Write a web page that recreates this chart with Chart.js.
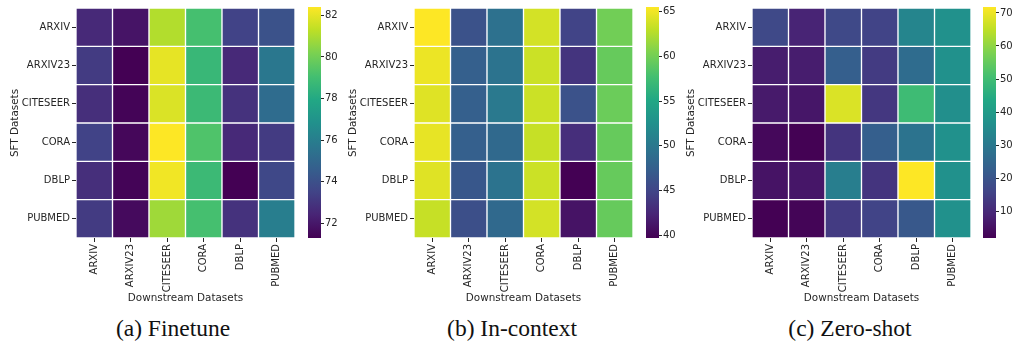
<!DOCTYPE html>
<html>
<head>
<meta charset="utf-8">
<script src="https://cdn.jsdelivr.net/npm/chart.js@4.4.0/dist/chart.umd.min.js"></script>
<style>
  body { margin: 0; background: #fff; }
  #wrap { position: relative; width: 1016px; height: 346px; overflow: hidden; }
  .box { position: absolute; top: 0; }
  .cap { position: absolute; top: 315px; width: 200px; text-align: center;
         font-family: "Liberation Serif", serif; font-size: 23.5px; color: #111; }
</style>
</head>
<body>
<div id="wrap">
  <div class="box" style="left:0px;width:299px;height:306px"><canvas id="hm1"></canvas></div>
  <div class="box" style="left:308px;width:40px;height:306px"><canvas id="cb1"></canvas></div>
  <div class="box" style="left:338px;width:299px;height:306px"><canvas id="hm2"></canvas></div>
  <div class="box" style="left:646px;width:40px;height:306px"><canvas id="cb2"></canvas></div>
  <div class="box" style="left:676px;width:299px;height:306px"><canvas id="hm3"></canvas></div>
  <div class="box" style="left:983px;width:33px;height:306px"><canvas id="cb3"></canvas></div>
  <div class="cap" style="left:73px">(a) Finetune</div>
  <div class="cap" style="left:412px">(b) In-context</div>
  <div class="cap" style="left:750px">(c) Zero-shot</div>
</div>
<script>
// rows = SFT datasets, columns = downstream datasets
const sftDatasets = ["ARXIV", "ARXIV23", "CITESEER", "CORA", "DBLP", "PUBMED"];
const downstreamDatasets = ["ARXIV", "ARXIV23", "CITESEER", "CORA", "DBLP", "PUBMED"];

const finetune = [
  [72.6, 71.9, 81.1, 79.1, 73.5, 74.1],
  [73.2, 71.3, 82.0, 78.7, 72.6, 75.7],
  [72.8, 71.4, 81.8, 78.8, 72.9, 75.2],
  [73.5, 71.5, 82.4, 79.3, 72.6, 73.2],
  [72.8, 71.4, 82.2, 78.8, 71.3, 73.7],
  [73.2, 71.6, 80.8, 79.1, 72.9, 76.0],
];
const finetuneTicks = [72, 74, 76, 78, 80, 82];

const inContext = [
  [65.5, 46.2, 49.3, 63.8, 44.9, 59.9],
  [64.8, 47.5, 49.5, 63.5, 43.6, 59.4],
  [64.3, 47.5, 50.1, 63.5, 46.2, 59.6],
  [64.6, 47.5, 48.5, 63.3, 43.1, 59.4],
  [64.3, 46.7, 49.5, 63.5, 39.7, 59.4],
  [63.3, 45.9, 48.5, 63.8, 41.0, 59.4],
];
const inContextTicks = [40, 45, 50, 55, 60, 65];

const zeroShot = [
  [17.3, 8.9, 17.3, 16.0, 33.5, 37.0],
  [7.5, 7.5, 23.0, 14.0, 26.5, 37.0],
  [6.8, 6.1, 68.0, 13.1, 49.6, 36.3],
  [3.3, 2.0, 12.4, 23.0, 28.6, 37.0],
  [5.4, 6.1, 31.4, 12.4, 71.8, 37.0],
  [1.9, 2.6, 14.0, 16.0, 21.0, 37.0],
];
const zeroShotTicks = [10, 20, 30, 40, 50, 60, 70];

// viridis colour stops
const viridis = [
  [68, 1, 84], [72, 36, 117], [65, 68, 135], [53, 95, 141], [42, 120, 142],
  [33, 145, 140], [34, 168, 132], [68, 191, 112], [122, 209, 81], [189, 223, 38],
  [253, 231, 37],
];

function viridisColor(t) {
  t = Math.max(0, Math.min(1, t));
  const p = t * (viridis.length - 1);
  const i = Math.min(Math.floor(p), viridis.length - 2);
  const f = p - i;
  const a = viridis[i], b = viridis[i + 1];
  const c = a.map((v, k) => Math.round(v + (b[k] - v) * f));
  return `rgb(${c[0]},${c[1]},${c[2]})`;
}

const TEXT = "#262626";
const FONT = "'DejaVu Sans', sans-serif";

function heatmap(id, values) {
  const flat = values.flat();
  const lo = Math.min(...flat), hi = Math.max(...flat);

  new Chart(document.getElementById(id), {
    type: "bar",
    data: {
      labels: downstreamDatasets,
      datasets: sftDatasets.map((name, i) => ({
        label: name,
        data: downstreamDatasets.map(() => [i, i + 1]),
        backgroundColor: values[i].map((v) => viridisColor((v - lo) / (hi - lo))),
        borderColor: "#fff",
        borderWidth: 1,
        borderSkipped: false,
        grouped: false,
        barPercentage: 1,
        categoryPercentage: 1,
      })),
    },
    options: {
      responsive: true,
      maintainAspectRatio: false,
      animation: false,
      layout: { padding: { top: 5, right: 4, left: 0, bottom: 0 } },
      plugins: { legend: { display: false }, tooltip: { enabled: false } },
      scales: {
        x: {
          type: "category",
          border: { display: false },
          grid: { drawOnChartArea: false, offset: false, tickLength: 4, color: TEXT },
          ticks: { minRotation: 90, maxRotation: 90, padding: 2, color: TEXT, font: { family: FONT, size: 10 } },
          title: { display: true, text: "Downstream Datasets", color: TEXT, padding: { top: 0, bottom: 1 }, font: { family: FONT, size: 10.4 } },
          afterFit: (s) => { s.height = 68; },
        },
        y: {
          type: "linear",
          min: 0,
          max: 6,
          reverse: true,
          border: { display: false },
          grid: { drawOnChartArea: false, tickLength: 4, color: TEXT },
          afterBuildTicks: (s) => { s.ticks = sftDatasets.map((_, i) => ({ value: i + 0.5 })); },
          ticks: { autoSkip: false, padding: 2, color: TEXT, font: { family: FONT, size: 10 },
                   callback: (v, i) => sftDatasets[i] },
          title: { display: true, text: "SFT Datasets", color: TEXT, padding: { top: 9, bottom: 0 }, font: { family: FONT, size: 10.4 } },
          afterFit: (s) => { s.width = 76; },
        },
      },
    },
  });
  return [lo, hi];
}

const gradientPlugin = {
  id: "viridisBar",
  beforeDatasetsDraw(chart) {
    const { ctx, chartArea: a } = chart;
    const g = ctx.createLinearGradient(0, a.bottom, 0, a.top);
    viridis.forEach((c, i) => g.addColorStop(i / (viridis.length - 1), `rgb(${c[0]},${c[1]},${c[2]})`));
    ctx.save();
    ctx.fillStyle = g;
    ctx.fillRect(a.left, a.top, a.right - a.left, a.bottom - a.top);
    ctx.restore();
  },
};

function colorbar(id, range, ticks, boxWidth) {
  new Chart(document.getElementById(id), {
    type: "bar",
    data: { labels: [""], datasets: [] },
    plugins: [gradientPlugin],
    options: {
      responsive: true,
      maintainAspectRatio: false,
      animation: false,
      layout: { padding: { top: 4, bottom: 68, left: 0, right: 0 } },
      plugins: { legend: { display: false }, tooltip: { enabled: false } },
      scales: {
        x: { display: false },
        y: {
          position: "right",
          min: range[0],
          max: range[1],
          border: { display: false },
          grid: { drawOnChartArea: false, tickLength: 3, color: TEXT },
          afterBuildTicks: (s) => { s.ticks = ticks.map((v) => ({ value: v })); },
          ticks: { autoSkip: false, padding: 1, color: TEXT, font: { family: FONT, size: 10 } },
          afterFit: (s) => { s.width = boxWidth - 13; },
        },
      },
    },
  });
}

colorbar("cb1", heatmap("hm1", finetune), finetuneTicks, 40);
colorbar("cb2", heatmap("hm2", inContext), inContextTicks, 40);
colorbar("cb3", heatmap("hm3", zeroShot), zeroShotTicks, 33);
</script>
</body>
</html>
